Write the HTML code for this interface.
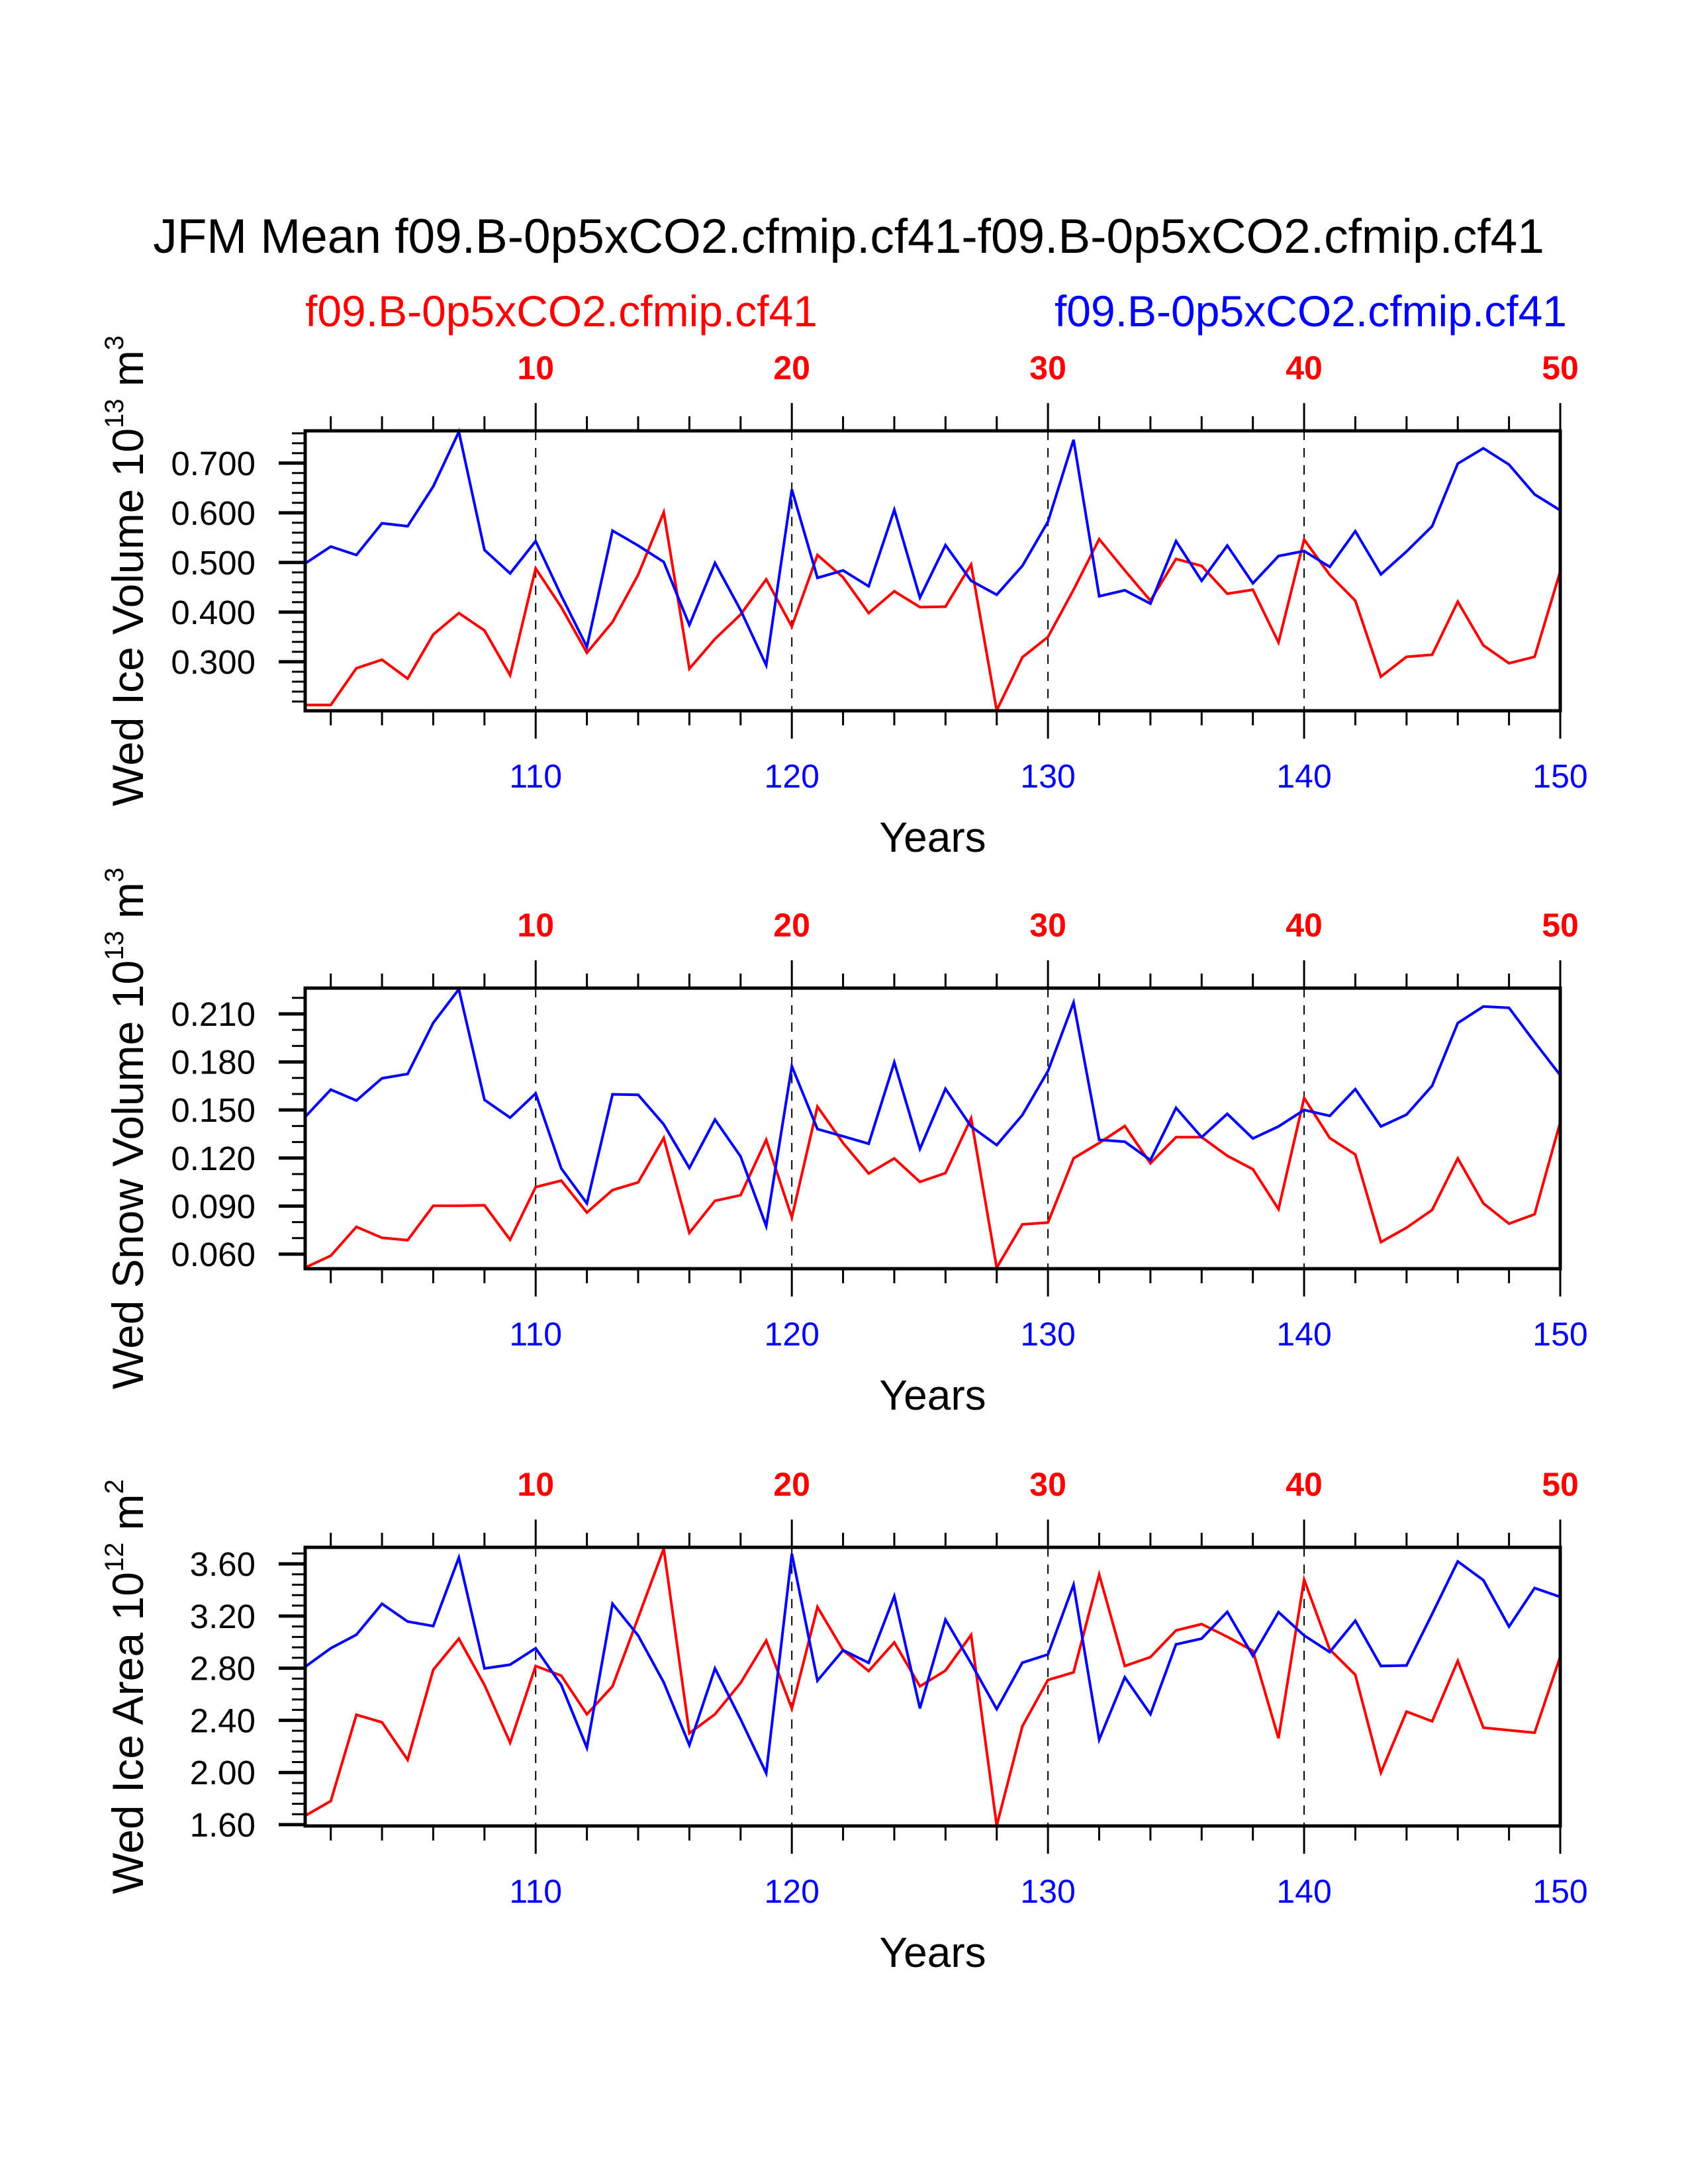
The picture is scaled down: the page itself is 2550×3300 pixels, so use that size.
<!DOCTYPE html>
<html><head><meta charset="utf-8"><style>
html,body{margin:0;padding:0;background:#fff}
svg{display:block}
text{font-family:"Liberation Sans",sans-serif}
</style></head><body>
<svg id="chart" xmlns="http://www.w3.org/2000/svg" width="2550" height="3300" viewBox="0 0 2550 3300">
<rect width="2550" height="3300" fill="#fff"/>
<text x="1282" y="382" font-size="73" text-anchor="middle" fill="#000">JFM Mean f09.B-0p5xCO2.cfmip.cf41-f09.B-0p5xCO2.cfmip.cf41</text>
<text x="461" y="493" font-size="66" fill="#f00">f09.B-0p5xCO2.cfmip.cf41</text>
<text x="2367" y="493" font-size="66" text-anchor="end" fill="#00f">f09.B-0p5xCO2.cfmip.cf41</text>
<g id="panels"></g>
</svg>
<script>
const years = [];
for (let y = 101; y <= 150; y++) years.push(y);
const topTickLabels = ["10","20","30","40","50"];
const bottomTickLabels = ["110","120","130","140","150"];

const iceVolBlue = [0.498,0.532,0.515,0.579,0.573,0.653,0.763,0.525,0.478,0.543,0.433,0.330,0.564,0.534,0.501,0.374,0.499,0.404,0.293,0.647,0.469,0.484,0.452,0.606,0.429,0.535,0.463,0.435,0.493,0.582,0.747,0.432,0.444,0.417,0.543,0.463,0.534,0.458,0.513,0.523,0.491,0.563,0.476,0.522,0.573,0.699,0.730,0.697,0.637,0.605];
const iceVolRed = [0.213,0.213,0.287,0.304,0.266,0.355,0.398,0.363,0.273,0.488,0.410,0.318,0.380,0.475,0.601,0.286,0.346,0.395,0.466,0.371,0.515,0.470,0.398,0.442,0.410,0.411,0.496,0.202,0.309,0.350,0.445,0.547,0.484,0.423,0.507,0.493,0.437,0.445,0.339,0.546,0.475,0.423,0.270,0.310,0.314,0.421,0.333,0.297,0.310,0.482];
const iceVolTicks = ["0.300","0.400","0.500","0.600","0.700"];

const snowBlue = [0.1457,0.1627,0.1559,0.1698,0.1725,0.2044,0.2254,0.1563,0.1452,0.1603,0.1135,0.0917,0.1598,0.1595,0.1410,0.1138,0.1440,0.1210,0.0775,0.1773,0.1381,0.1336,0.1289,0.1798,0.1257,0.1632,0.1397,0.1281,0.1468,0.1743,0.2171,0.1314,0.1302,0.1187,0.1513,0.1330,0.1476,0.1322,0.1397,0.1500,0.1463,0.1630,0.1397,0.1471,0.1651,0.2043,0.2146,0.2138,0.1924,0.1717];
const snowRed = [0.0516,0.0590,0.0770,0.0702,0.0687,0.0902,0.0902,0.0905,0.0690,0.1019,0.1059,0.0860,0.1000,0.1048,0.1325,0.0733,0.0933,0.0968,0.1314,0.0829,0.1521,0.1294,0.1103,0.1198,0.1051,0.1106,0.1448,0.0515,0.0786,0.0797,0.1198,0.1294,0.1400,0.1167,0.1330,0.1330,0.1214,0.1130,0.0881,0.1575,0.1325,0.1222,0.0675,0.0765,0.0876,0.1198,0.0917,0.0790,0.0849,0.1424];
const snowTicks = ["0.060","0.090","0.120","0.150","0.180","0.210"];

const areaBlue = [2.811,2.953,3.057,3.294,3.158,3.123,3.649,2.798,2.827,2.953,2.671,2.190,3.294,3.051,2.691,2.210,2.798,2.408,1.995,3.678,2.704,2.938,2.841,3.353,2.492,3.172,2.837,2.486,2.842,2.905,3.440,2.252,2.730,2.447,2.983,3.027,3.232,2.895,3.230,3.051,2.924,3.164,2.817,2.821,3.216,3.619,3.475,3.119,3.415,3.347];
const areaRed = [1.668,1.781,2.443,2.385,2.097,2.788,3.026,2.671,2.229,2.817,2.743,2.447,2.661,3.187,3.717,2.301,2.447,2.687,3.012,2.490,3.269,2.938,2.778,2.998,2.661,2.782,3.055,1.592,2.354,2.710,2.768,3.518,2.817,2.885,3.090,3.138,3.041,2.934,2.262,3.479,2.944,2.749,1.999,2.467,2.393,2.856,2.344,2.324,2.305,2.889];
const areaTicks = ["1.60","2.00","2.40","2.80","3.20","3.60"];

const NS = "http://www.w3.org/2000/svg";
const root = document.getElementById('panels');
function mk(tag, attrs, parent) {
  const e = document.createElementNS(NS, tag);
  for (const k in attrs) e.setAttribute(k, attrs[k]);
  parent.appendChild(e);
  return e;
}
const X0 = 461, X1 = 2357;
function xScale(yr) { return X0 + (yr - 101) * (X1 - X0) / 49; }

const panels = [
  {key:'ice-volume', top:651, bot:1074, ymin:0.2013, ymax:0.765, minor:0.02, ticks:iceVolTicks, blue:iceVolBlue, red:iceVolRed, title:['Wed Ice Volume 10','13',' m','3']},
  {key:'snow-volume', top:1493, bot:1917, ymin:0.0509, ymax:0.2261, minor:0.01, ticks:snowTicks, blue:snowBlue, red:snowRed, title:['Wed Snow Volume 10','13',' m','3']},
  {key:'ice-area', top:2338, bot:2759, ymin:1.59, ymax:3.727, minor:0.08, ticks:areaTicks, blue:areaBlue, red:areaRed, title:['Wed Ice Area 10','12',' m','2']}
];

panels.forEach(p => {
  const g = mk('g', {}, root);
  
  
  const ys = v => p.bot - (v - p.ymin) / (p.ymax - p.ymin) * (p.bot - p.top);
  [110,120,130,140].forEach(yr => {
    const l = mk('line', {x1:xScale(yr), x2:xScale(yr), y1:p.top, y2:p.bot, stroke:'#000', 'stroke-width':2, 'stroke-dasharray':'14 12'}, g);
    
    
  });
  [['red', p.red, '#f00'], ['blue', p.blue, '#00f']].forEach(([nm, arr, col]) => {
    const pts = arr.map((v, i) => xScale(years[i]).toFixed(1) + ',' + ys(v).toFixed(1)).join(' ');
    const pl = mk('polyline', {points:pts, fill:'none', stroke:col, 'stroke-width':4, 'stroke-linejoin':'miter'}, g);
    
    
  });
  const fr = mk('rect', {x:X0, y:p.top, width:X1-X0, height:p.bot-p.top, fill:'none', stroke:'#000', 'stroke-width':5}, g);
  
  
  for (let yr = 102; yr <= 150; yr += 2) {
    const major = yr % 10 === 0;
    const len = major ? 42 : 22;
    const x = xScale(yr);
    mk('line', {x1:x, x2:x, y1:p.top, y2:p.top - len, stroke:'#000', 'stroke-width':3}, g);
    mk('line', {x1:x, x2:x, y1:p.bot, y2:p.bot + len, stroke:'#000', 'stroke-width':3}, g);
  }
  topTickLabels.forEach((lab, i) => {
    const t = mk('text', {x:xScale(110 + i*10), y:p.top - 78, 'font-size':50, 'font-weight':'bold', fill:'#f00', 'text-anchor':'middle'}, g);
    t.textContent = lab;
    
    
  });
  bottomTickLabels.forEach((lab, i) => {
    const t = mk('text', {x:xScale(110 + i*10), y:p.bot + 116, 'font-size':50, fill:'#00f', 'text-anchor':'middle'}, g);
    t.textContent = lab;
    
    
  });
  const xt = mk('text', {x:(X0+X1)/2, y:p.bot + 213, 'font-size':64, fill:'#000', 'text-anchor':'middle'}, g);
  xt.textContent = 'Years';
  
  
  const start = Math.ceil(p.ymin / p.minor - 1e-6);
  for (let k = start; k * p.minor <= p.ymax + 1e-9; k++) {
    const y = ys(k * p.minor);
    mk('line', {x1:X0, x2:X0 - 20, y1:y, y2:y, stroke:'#000', 'stroke-width':3}, g);
  }
  p.ticks.forEach(lab => {
    const y = ys(parseFloat(lab));
    mk('line', {x1:X0, x2:X0 - 40, y1:y, y2:y, stroke:'#000', 'stroke-width':5}, g);
    const t = mk('text', {x:386, y:y + 18, 'font-size':51, fill:'#000', 'text-anchor':'end'}, g);
    t.textContent = lab;
    
    
  });
  const cy = (p.top + p.bot) / 2;
  const yt = mk('text', {x:0, y:0, 'font-size':66, fill:'#000', 'text-anchor':'middle', transform:'translate(216,' + cy + ') rotate(-90)'}, g);
  
  
  const parts = [[p.title[0], 0], [p.title[1], 1], [p.title[2], 0], [p.title[3], 1]];
  parts.forEach(([s, sup]) => {
    const ts = mk('tspan', sup ? {'font-size':40, dy:-30} : {'font-size':66, dy: 0}, yt);
    ts.textContent = s;
  });
  const spans = yt.querySelectorAll('tspan');
  spans[2].setAttribute('dy', 30);
});
</script>
</body></html>
